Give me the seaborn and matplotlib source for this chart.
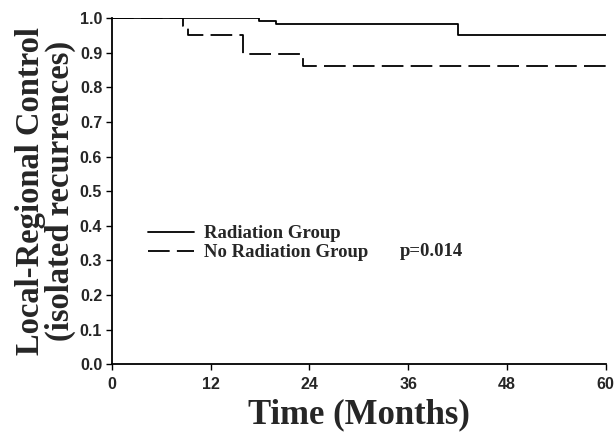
import matplotlib
matplotlib.use("Agg")
import matplotlib.pyplot as plt
import seaborn as sns
import pandas as pd
from matplotlib.lines import Line2D

# Data (Kaplan-Meier step curves)
rad_time = [0, 17.9, 19.9, 42.0, 60]
rad_surv = [1.0, 0.992, 0.982, 0.951, 0.951]
norad_time = [0, 8.6, 9.3, 15.9, 23.2, 60]
norad_surv = [1.0, 0.977, 0.950, 0.895, 0.863, 0.863]
groups = ["Radiation Group", "No Radiation Group"]
x_ticks = [0, 12, 24, 36, 48, 60]
y_ticks = [0.0, 0.1, 0.2, 0.3, 0.4, 0.5, 0.6, 0.7, 0.8, 0.9, 1.0]
p_text = "p=0.014"

df = pd.concat([
    pd.DataFrame({"time": rad_time, "surv": rad_surv, "group": groups[0]}),
    pd.DataFrame({"time": norad_time, "surv": norad_surv, "group": groups[1]}),
])

sns.set_style("ticks")
fig = plt.figure(figsize=(6.15, 4.32), dpi=100)
ax = fig.add_axes([0.182, 0.157, 0.803, 0.801])

DASH = (12, 4)
sns.lineplot(data=df, x="time", y="surv", hue="group", style="group",
             palette=["black", "black"], dashes={groups[0]: "", groups[1]: DASH},
             drawstyle="steps-post", linewidth=1.3, legend=False, ax=ax,
             estimator=None, sort=False)

ax.set_xlim(0, 60)
ax.set_ylim(0, 1.0)
ax.set_xticks(x_ticks)
ax.set_yticks(y_ticks)
ax.set_xticklabels([str(t) for t in x_ticks])
ax.set_yticklabels([f"{t:.1f}" for t in y_ticks])
for lbl in ax.get_xticklabels() + ax.get_yticklabels():
    lbl.set_fontfamily("Liberation Sans")
    lbl.set_fontweight("bold")
    lbl.set_fontsize(11.5)
ax.tick_params(direction="out", length=4, width=1, color="black", pad=3)
ax.tick_params(axis="x", pad=5)
for s in ["top", "right"]:
    ax.spines[s].set_visible(False)
for s in ["left", "bottom"]:
    ax.spines[s].set_linewidth(1.3)
    ax.spines[s].set_color("black")

ax.set_xlabel("Time (Months)", fontfamily="Liberation Serif", fontweight="bold",
              fontsize=25, labelpad=5)
ax.set_ylabel("Local-Regional Control\n(isolated recurrences)", fontfamily="Liberation Serif",
              fontweight="bold", fontsize=23.5, labelpad=3, linespacing=0.92)

handles = [Line2D([0], [0], color="black", lw=1.3, ls="-"),
           Line2D([0], [0], color="black", lw=1.3, ls=(0, DASH))]
leg = ax.legend(handles, groups, loc="upper left", bbox_to_anchor=(0.058, 0.424),
                frameon=False, handlelength=2.45, handletextpad=0.55, labelspacing=0.1,
                borderaxespad=0.0,
                prop={"family": "Liberation Serif", "weight": "bold", "size": 13.5})
ax.text(0.582, 0.327, p_text, transform=ax.transAxes, fontfamily="Liberation Serif",
        fontweight="bold", fontsize=13.5, ha="left", va="center")

fig.savefig("out.png", dpi=100)
